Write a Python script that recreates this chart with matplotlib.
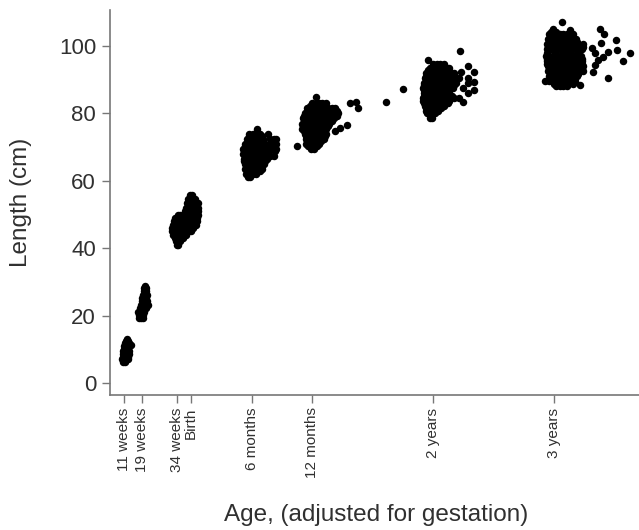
import matplotlib
matplotlib.use("Agg")
import matplotlib.pyplot as plt

plt.rcParams['font.family'] = ['Liberation Sans', 'DejaVu Sans']

# Every group: length in cm -> gestation-adjusted age in weeks
wk11 = {6.2: [10.8, 11.6], 7: [10.4, 11.2, 12, 12.8], 7.8: [10.6, 11.4, 12.2, 13.1],
        8.6: [10.7, 11.5, 12.3, 13.2], 9.4: [10.9, 11.7, 12.5, 13.3], 10.2: [11, 11.8, 12.8],
        11: [11.4, 12.2, 13], 11.4: [14], 11.8: [11.6, 12.4, 13.2], 12.6: [12, 12.8], 13.2: [12.5]}
wk19 = {19.3: [17.8, 18.6, 19.3], 20.2: [17.6, 18.6, 19.5], 21.2: [17.1, 18, 19, 20],
        22.2: [18.2, 19.2, 20.2, 20.8], 23.2: [18.4, 19.4, 20.4, 21.5], 24.2: [18.8, 19.8, 20.6, 21.3],
        25.2: [19, 20, 20.8], 26.2: [19.4, 20.2, 20.9], 27.2: [19.8, 20.7], 28.2: [20, 20.6], 28.9: [20.2]}
wk34 = {41: [33.8, 34.6], 42: [33.4, 34.4, 35.2], 43: [33, 34, 35, 36, 36.6],
        44: [32.2, 33.2, 34.2, 35.2, 36.2, 37.2, 38], 45: [32, 33, 34, 35, 36, 37, 38, 39, 40],
        46: [32, 33, 34, 35, 36, 37, 38, 39, 40, 41], 47: [32.2, 33.2, 34.2, 35.2, 36.2, 37.2, 38.2, 39.2, 40.2, 41.4, 42.2],
        48: [32.6, 33.6, 34.6, 35.6, 36.6, 37.6, 38.6, 39.6, 40.6, 41.6, 42.4],
        49: [33, 34, 35, 36, 37, 38, 39, 40, 41, 42, 42.6], 49.8: [34.4, 35.2, 37, 38, 39, 40, 41, 42, 42.8],
        51: [37.4, 38.4, 39.4, 40.4, 41.4, 42.4, 42.8], 52: [37.8, 38.8, 39.8, 40.8, 41.8, 42.8],
        53.4: [38.3, 39.3, 40.3, 41.3, 42.3, 42.8], 54.6: [38.8, 39.8, 40.8, 41.8], 55.8: [39.6, 40.6]}
mo6 = {61: [64.5, 65.5], 62: [63.5, 65, 66.5, 68], 62.8: [64, 67, 69.5], 63.5: [63, 64.5, 66, 67.5, 69, 70.5],
       65: [63, 64.5, 66, 67.5, 69, 70.5, 71.5], 65.8: [62.8, 66.5, 69.5, 72], 66.5: [62.6, 64, 65.5, 67, 68.5, 70, 71.5, 72.5],
       67.5: [74, 75.5], 68: [62.4, 64, 65.5, 67, 68.5, 70, 71.5, 72.5], 68.8: [62.8, 66, 69, 73.5, 76],
       69.5: [62.4, 64, 65.5, 67, 68.5, 70, 71.5, 73, 74, 75.5, 76.5], 70.3: [63, 67, 70],
       71: [63.2, 64.5, 66, 67.5, 69, 70.5, 72, 74, 75.5, 76.5], 71.8: [65, 68, 71, 75],
       72.5: [64, 65.5, 67, 68.5, 70, 71, 74, 75.5, 76.5], 73.3: [64.8, 67.5, 70.5], 74: [65, 66.5, 68, 69.5, 73], 75.5: [68.5]}
mo12 = {69.5: [91.5, 93], 70.3: [85.4, 90.4, 94], 71: [89.6, 91, 92.5, 94, 95.2], 71.8: [90, 93, 96], 72.5: [89.6, 91, 92.5, 94, 95.5, 97],
        73.3: [89.2, 92, 95, 97.5], 74: [88.8, 90, 91.5, 93, 94.5, 96, 97.5, 98.2], 74.8: [88.4, 91, 94, 97, 101.9], 75.6: [104],
        75.5: [87.8, 89, 90.5, 92, 93.5, 95, 96.5, 98], 76.2: [88, 91, 94, 97, 99], 76.6: [106.9],
        77: [87.6, 89, 90.5, 92, 93.5, 95, 96.5, 98, 99.5], 77.8: [88.5, 91.5, 94.5, 97.5, 100.5],
        78.5: [88, 89.5, 91, 92.5, 94, 95.5, 97, 98.5, 100, 101.5], 79.3: [88.6, 92, 95, 98, 101, 102.6],
        80: [89, 90.5, 92, 93.5, 95, 96.5, 98, 99.5, 101, 103.2], 80.8: [90, 93, 96, 100, 102.6],
        81.5: [90, 91.5, 93, 94.5, 96, 97, 99, 100.5, 102, 111.9], 82.2: [91, 94, 97], 83: [92, 93.5, 95, 96.5, 98, 108.3],
        83.5: [110.9, 123.8], 85: [93.7]}
yr2 = {78.6: [142.5, 143.5], 80: [141.5, 143, 145], 80.8: [141, 144, 146], 81.5: [141, 142.5, 144, 146, 147.5], 82.3: [140.5, 143, 145.5, 148.5],
       83: [140, 141.5, 143, 144.5, 146, 147.5, 149, 150.5], 83.8: [139.8, 142, 145, 148, 151],
       83.5: [157], 84.6: [139.5, 141, 142.5, 144, 145.5, 147, 148.5, 150, 151.5, 153, 155],
       85.3: [140.3, 143, 146, 149, 152], 86: [140, 141.5, 143, 144.5, 146, 147.5, 149, 150.5, 151, 159], 86.9: [161.7, 140, 143.5, 147, 150],
       87.2: [131], 87.5: [139.5, 141, 142.5, 144, 145.5, 147, 148.5, 150, 151.5, 152.5, 156.9],
       88.3: [140, 143, 146, 149, 153],
       89: [140, 141.5, 143, 144.5, 146, 147.5, 149, 150.5, 152, 154, 159], 89.4: [161.7], 89.7: [141, 144, 147, 150, 153.5],
       90.4: [140.5, 142, 143.5, 145, 146.5, 148, 149.5, 151, 152.5, 155, 159.2], 91.2: [141, 144, 147, 150, 153],
       92: [141, 142.5, 144, 145.5, 147, 148.5, 150, 151.5, 153], 92.2: [161.7], 92.4: [156], 92.8: [142, 145, 148, 151],
       93.4: [142.5, 144, 145.5, 147, 148.5, 150, 151], 94.2: [159.2], 94.8: [144, 145.5, 147, 148.5],
       95.8: [142], 98.5: [155.6]}
yr3 = {88: [197, 198.5, 200, 201.5], 88.4: [207], 88.8: [196, 199, 202, 204], 89.6: [192.1, 194, 196, 197.5, 199, 200.5, 202, 203.5, 205],
       90.4: [219, 195, 198, 201, 204.5], 91: [194, 195.5, 197, 198.5, 200, 201.5, 203, 204.5, 206], 91.8: [194.5, 197.5, 200.5, 203.5, 206.5],
       92.4: [212.9], 92.5: [193.5, 195, 196.5, 198, 199.5, 201, 202.5, 204, 205.5, 207, 208.5], 93.2: [194, 197, 200, 203, 206, 208],
       94: [193.5, 195, 196.5, 198, 199.5, 201, 202.5, 204, 205.5, 207, 208.5], 94.4: [213.6], 94.8: [193, 196, 199, 202, 205, 208],
       95.5: [193, 194.5, 196, 197.5, 199, 200.5, 202, 203.5, 205, 206.5, 208], 95.6: [225.8], 95.8: [215], 96.2: [192.8, 196, 199, 202, 205, 208],
       96.8: [216.9], 97: [192.5, 194, 195.5, 197, 198.5, 200, 201.5, 203, 204.5, 206, 207.5],
       97.8: [213.6, 228.7, 193, 196.5, 200, 203, 206.5], 98.1: [219.3], 98.8: [223.2],
       99: [193, 194.5, 196, 197.5, 199, 200.5, 202, 203.5, 205, 206.5, 208], 99.3: [212.5], 99.8: [193.5, 197, 200, 203, 206, 208.5],
       100.5: [193, 194.5, 196, 197.5, 199, 200.5, 202, 203.5, 205, 206.5, 208.5], 100.8: [216], 101.2: [194, 197, 200, 203, 206], 101.8: [222.6],
       102: [193.5, 195, 196.5, 198, 199.5, 201, 202.5, 204, 205.5], 102.8: [194.5, 198, 201, 203.8], 103.5: [194, 195.5, 197, 198.5, 200, 201.5, 203, 204, 217.6],
       104.3: [194.8, 197, 202.8], 105: [195.6], 104.7: [203], 105.2: [215.8], 107: [199.6]}
groups = [wk11, wk19, wk34, mo6, mo12, yr2, yr3]

tick_weeks = [11, 19, 34, 40, 66, 92, 144, 196]
tick_labels = ['11 weeks', '19 weeks', '34 weeks', 'Birth', '6 months', '12 months', '2 years', '3 years']
y_ticks = [0, 20, 40, 60, 80, 100]

W, H = 639, 530
fig = plt.figure(figsize=(W / 100, H / 100), dpi=100)
ax = fig.add_axes([110 / W, (H - 395) / H, (W - 110) / W, 385 / H])

for g in groups:
    xs, ys = [], []
    for length, weeks in g.items():
        xs += weeks
        ys += [length] * len(weeks)
    ax.scatter(xs, ys, s=29, color='black', linewidths=0, clip_on=False)

ax.set_xlim(5.19, 232.5)
ax.set_ylim(-3.56, 110.7)
grey = '#777777'
text = '#303030'
for s in ('top', 'right'):
    ax.spines[s].set_visible(False)
for s in ('left', 'bottom'):
    ax.spines[s].set_color(grey)
    ax.spines[s].set_linewidth(1.2)
ax.set_yticks(y_ticks)
ax.tick_params(axis='y', labelsize=16, length=6, width=1, color=grey, labelcolor=text, pad=4)
ax.set_xticks(tick_weeks)
ax.set_xticklabels(tick_labels, rotation=90, ha='center', va='top')
ax.tick_params(axis='x', labelsize=11, length=6, width=1, color=grey, labelcolor=text, pad=3)
fig.text(376.5 / W, 1 - 515 / H, 'Age, (adjusted for gestation)', fontsize=17.5, color=text, ha='center', va='center')
fig.text(21 / W, 1 - 202 / H, 'Length (cm)', fontsize=17.5, color=text, rotation=90, ha='center', va='center')
fig.savefig('out.png', dpi=100)
